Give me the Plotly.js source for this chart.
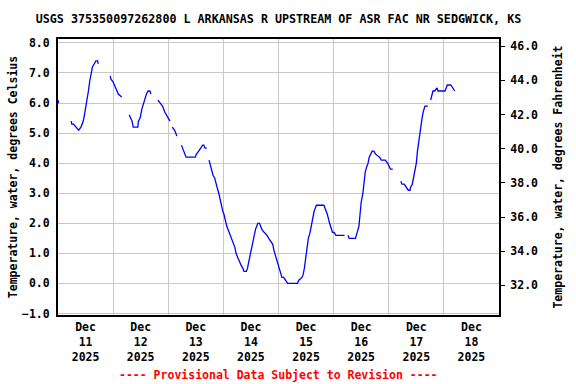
<!DOCTYPE html>
<html>
<head>
<meta charset="utf-8">
<script src="https://cdn.plot.ly/plotly-3.0.1.min.js"></script>
<style>html,body{margin:0;padding:0;background:#fff;}#chart{width:576px;height:384px;}</style>
</head>
<body>
<div id="chart"></div>
<script>
const chartTitle = 'USGS 375350097262800 L ARKANSAS R UPSTREAM OF ASR FAC NR SEDGWICK, KS';
const footerText = '---- Provisional Data Subject to Revision ----';
const leftAxisTitle = 'Temperature, water, degrees Celsius';
const rightAxisTitle = 'Temperature, water, degrees Fahrenheit';

const dayDates = ['2025-12-11','2025-12-12','2025-12-13','2025-12-14','2025-12-15','2025-12-16','2025-12-17','2025-12-18'];
const dayLabels = ['Dec<br>11<br>2025','Dec<br>12<br>2025','Dec<br>13<br>2025','Dec<br>14<br>2025','Dec<br>15<br>2025','Dec<br>16<br>2025','Dec<br>17<br>2025','Dec<br>18<br>2025'];
const celsiusTicks = [-1,0,1,2,3,4,5,6,7,8];
const fahrenheitTicks = [32,34,36,38,40,42,44,46];

const times = [
'2025-12-11 00:00','2025-12-11 00:15','2025-12-11 03:00',
'2025-12-11 05:45','2025-12-11 06:00','2025-12-11 06:45','2025-12-11 07:45','2025-12-11 09:00','2025-12-11 10:00','2025-12-11 11:00','2025-12-11 11:30','2025-12-11 12:00','2025-12-11 12:45','2025-12-11 13:15','2025-12-11 13:45','2025-12-11 14:30','2025-12-11 15:00','2025-12-11 15:45','2025-12-11 16:30','2025-12-11 17:15','2025-12-11 17:30','2025-12-11 20:00',
'2025-12-11 22:45','2025-12-11 23:00','2025-12-12 00:00','2025-12-12 00:30','2025-12-12 01:15','2025-12-12 01:45','2025-12-12 02:15','2025-12-12 03:45','2025-12-12 05:00',
'2025-12-12 07:00','2025-12-12 07:30','2025-12-12 08:15','2025-12-12 08:45','2025-12-12 10:45','2025-12-12 11:00','2025-12-12 11:45','2025-12-12 12:30','2025-12-12 13:15','2025-12-12 14:00','2025-12-12 14:30','2025-12-12 15:15','2025-12-12 16:00','2025-12-12 16:30','2025-12-12 18:00',
'2025-12-12 19:30','2025-12-12 20:30','2025-12-12 21:30','2025-12-12 22:30','2025-12-12 23:15','2025-12-13 00:00','2025-12-13 00:45','2025-12-13 01:15',
'2025-12-13 01:45','2025-12-13 02:45','2025-12-13 03:15','2025-12-13 03:45','2025-12-13 04:45',
'2025-12-13 05:45','2025-12-13 06:15','2025-12-13 06:45','2025-12-13 07:45','2025-12-13 11:45','2025-12-13 12:15','2025-12-13 13:15','2025-12-13 14:00','2025-12-13 15:00','2025-12-13 15:30','2025-12-13 16:00','2025-12-13 16:45','2025-12-13 17:15',
'2025-12-13 17:45','2025-12-13 18:30','2025-12-13 19:00','2025-12-13 19:30','2025-12-13 20:15','2025-12-13 20:45','2025-12-13 21:15','2025-12-13 22:00','2025-12-13 22:30','2025-12-13 23:00','2025-12-13 23:45',
'2025-12-14 00:15','2025-12-14 00:45','2025-12-14 01:30','2025-12-14 02:00','2025-12-14 02:30','2025-12-14 03:15','2025-12-14 03:45','2025-12-14 04:30','2025-12-14 05:00','2025-12-14 05:30','2025-12-14 06:00','2025-12-14 06:45','2025-12-14 07:15','2025-12-14 07:45','2025-12-14 08:30','2025-12-14 09:00','2025-12-14 10:00','2025-12-14 10:30','2025-12-14 11:00','2025-12-14 11:30','2025-12-14 12:15','2025-12-14 12:45','2025-12-14 13:30','2025-12-14 14:00','2025-12-14 14:30','2025-12-14 15:00','2025-12-14 15:45','2025-12-14 16:15','2025-12-14 16:45','2025-12-14 17:45','2025-12-14 19:00','2025-12-14 19:45','2025-12-14 20:45','2025-12-14 21:30','2025-12-14 22:00','2025-12-14 22:45','2025-12-14 23:00','2025-12-14 23:45',
'2025-12-15 00:15','2025-12-15 01:00','2025-12-15 01:30','2025-12-15 02:15','2025-12-15 03:15','2025-12-15 04:00','2025-12-15 08:15','2025-12-15 08:45','2025-12-15 10:15','2025-12-15 10:45','2025-12-15 11:15','2025-12-15 12:00','2025-12-15 12:30','2025-12-15 13:00','2025-12-15 13:45','2025-12-15 14:15','2025-12-15 14:45','2025-12-15 15:30','2025-12-15 16:00','2025-12-15 16:30','2025-12-15 19:45','2025-12-15 20:45','2025-12-15 21:15','2025-12-15 22:15','2025-12-15 22:45','2025-12-15 23:30',
'2025-12-16 00:15','2025-12-16 01:00','2025-12-16 04:45','2025-12-16 05:30',
'2025-12-16 06:15','2025-12-16 06:45','2025-12-16 09:30','2025-12-16 09:45','2025-12-16 10:15','2025-12-16 11:00','2025-12-16 11:30','2025-12-16 12:00','2025-12-16 12:45','2025-12-16 13:15','2025-12-16 13:45','2025-12-16 14:30','2025-12-16 15:00','2025-12-16 15:30','2025-12-16 16:15','2025-12-16 16:45','2025-12-16 17:30','2025-12-16 18:15','2025-12-16 20:00','2025-12-16 20:45','2025-12-16 21:45','2025-12-16 22:30','2025-12-16 23:30',
'2025-12-17 00:15','2025-12-17 00:45','2025-12-17 01:45','2025-12-17 03:30',
'2025-12-17 05:15','2025-12-17 05:45','2025-12-17 06:45','2025-12-17 07:30','2025-12-17 08:30','2025-12-17 09:15','2025-12-17 09:30','2025-12-17 10:15','2025-12-17 10:45','2025-12-17 11:15','2025-12-17 12:00','2025-12-17 12:30','2025-12-17 13:00','2025-12-17 13:30','2025-12-17 14:00','2025-12-17 14:30','2025-12-17 15:00','2025-12-17 15:45','2025-12-17 16:15','2025-12-17 17:00','2025-12-17 17:30',
'2025-12-17 18:15','2025-12-17 18:30','2025-12-17 19:15','2025-12-17 20:00','2025-12-17 21:00','2025-12-17 21:30','2025-12-18 00:30','2025-12-18 01:00','2025-12-18 01:30','2025-12-18 03:00','2025-12-18 04:00','2025-12-18 04:45'
];
const tempC = [
6.1,6.0,null,
5.4,5.3,5.3,5.2,5.1,5.2,5.4,5.6,5.8,6.1,6.4,6.7,7.0,7.2,7.3,7.4,7.4,7.3,null,
6.9,6.8,6.7,6.6,6.5,6.4,6.3,6.2,null,
5.6,5.5,5.4,5.2,5.2,5.4,5.5,5.8,6.0,6.2,6.3,6.4,6.4,6.3,null,
6.1,6.0,5.9,5.7,5.6,5.5,5.4,null,
5.2,5.1,5.0,4.9,null,
4.6,4.5,4.4,4.2,4.2,4.3,4.4,4.5,4.6,4.6,4.5,4.5,null,
4.1,3.9,3.8,3.6,3.5,3.3,3.2,3.0,2.8,2.7,2.4,
2.3,2.1,1.9,1.8,1.7,1.5,1.4,1.3,1.2,1.0,0.9,0.8,0.7,0.6,0.5,0.4,0.4,0.5,0.7,0.9,1.2,1.4,1.6,1.8,1.9,2.0,2.0,1.9,1.8,1.7,1.6,1.5,1.4,1.3,1.1,0.9,0.8,0.6,
0.5,0.3,0.2,0.2,0.1,0.0,0.0,0.1,0.2,0.3,0.5,0.9,1.2,1.5,1.7,1.9,2.2,2.4,2.5,2.6,2.6,2.4,2.3,2.0,1.9,1.7,
1.7,1.6,1.6,null,
1.6,1.5,1.5,1.6,1.7,1.9,2.3,2.7,3.0,3.4,3.7,3.9,4.0,4.2,4.3,4.4,4.4,4.3,4.2,4.1,4.1,4.1,4.0,
3.9,3.8,3.8,null,
3.4,3.3,3.3,3.2,3.1,3.1,3.2,3.3,3.5,3.7,4.0,4.4,4.7,4.9,5.2,5.5,5.7,5.9,5.9,5.9,null,
6.1,6.2,6.4,6.4,6.5,6.4,6.4,6.5,6.6,6.6,6.5,6.4
];

const tempF = tempC.map(v => v === null ? null : v * 1.8 + 32);
const noonTicks = dayDates.map(d => d + ' 12:00');
const midnightTicks = dayDates.slice(1).map(d => d + ' 00:00');

const monoFont = {family: '"DejaVu Sans Mono", "Liberation Mono", monospace', size: 11.5, color: '#000', weight: 'bold'};

const traces = [
  {x: times, y: tempC, type: 'scatter', mode: 'lines', line: {color: '#0000ff', width: 1.3}, connectgaps: false, hoverinfo: 'skip', showlegend: false},
  {x: times, y: tempF, type: 'scatter', mode: 'lines', yaxis: 'y2', line: {color: 'rgba(0,0,0,0)', width: 0}, connectgaps: false, hoverinfo: 'skip', showlegend: false}
];

const layout = {
  width: 576, height: 384,
  margin: {l: 58, r: 77, t: 39, b: 69},
  paper_bgcolor: '#fff', plot_bgcolor: '#fff',
  showlegend: false,
  title: {text: chartTitle, font: {family: monoFont.family, size: 11.7, color: '#000', weight: 'bold'}, x: 0.5, xref: 'paper', xanchor: 'center', y: 1 - 19/384, yref: 'container', yanchor: 'middle'},
  xaxis: {
    type: 'date', range: ['2025-12-11 00:00', '2025-12-19 00:00'],
    tickmode: 'array', tickvals: noonTicks, ticktext: dayLabels,
    showgrid: false, ticks: '', tickfont: monoFont,
    minor: {tickmode: 'array', tickvals: midnightTicks, showgrid: true, gridcolor: '#c8c8c8', gridwidth: 1, ticks: ''},
    showline: true, linecolor: '#000', linewidth: 2, mirror: true, zeroline: false, fixedrange: true
  },
  yaxis: {
    range: [-1.05, 8.13], tickmode: 'array', tickvals: celsiusTicks, tickformat: '.1f',
    showgrid: true, gridcolor: '#c8c8c8', gridwidth: 1, zeroline: false,
    ticks: 'outside', ticklen: 4, tickcolor: 'rgba(0,0,0,0)', tickfont: monoFont,
    showline: true, linecolor: '#000', linewidth: 2, mirror: true,
    title: {text: leftAxisTitle, font: monoFont, standoff: 2},
    automargin: false, fixedrange: true
  },
  yaxis2: {
    overlaying: 'y', side: 'right', range: [30.27, 46.42],
    tickmode: 'array', tickvals: fahrenheitTicks, tickformat: '.1f',
    showgrid: false, zeroline: false, ticks: 'outside', ticklen: 5, tickcolor: '#000', tickwidth: 1,
    tickfont: monoFont, ticklabelstandoff: 3,
    title: {text: rightAxisTitle, font: monoFont, standoff: 16},
    automargin: false, fixedrange: true
  },
  annotations: [
    {text: footerText, xref: 'paper', yref: 'paper', x: 0.5, y: -(375 - 315) / 276, xanchor: 'center', yanchor: 'middle', showarrow: false, font: {family: monoFont.family, size: 11.5, color: '#ff0000', weight: 'bold'}}
  ]
};

Plotly.newPlot('chart', traces, layout, {staticPlot: true, displayModeBar: false});
</script>
</body>
</html>
